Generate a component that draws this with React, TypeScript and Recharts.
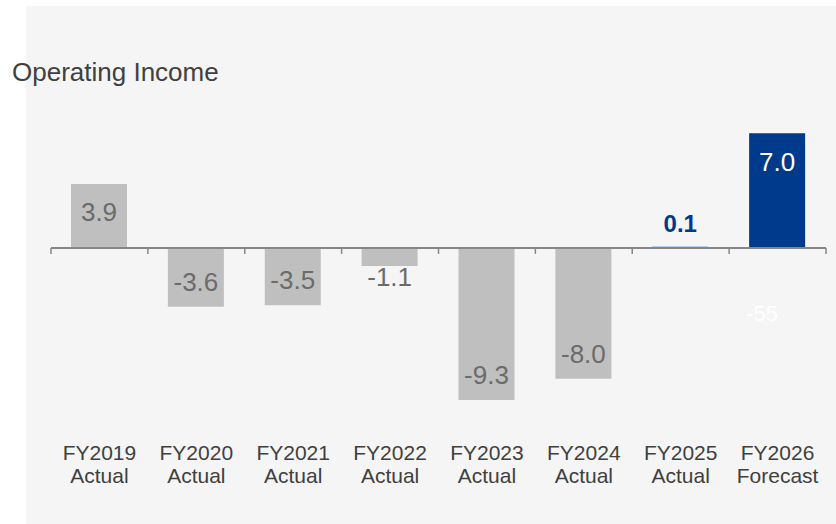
import React from 'react';
import { BarChart, Bar, XAxis, YAxis, Cell, ReferenceLine, LabelList } from 'recharts';

const categories = ['FY2019', 'FY2020', 'FY2021', 'FY2022', 'FY2023', 'FY2024', 'FY2025', 'FY2026'];
const periods = ['Actual', 'Actual', 'Actual', 'Actual', 'Actual', 'Actual', 'Actual', 'Forecast'];
const values = [3.9, -3.6, -3.5, -1.1, -9.3, -8.0, 0.1, 7.0];
const barColors = ['#bfbfbf', '#bfbfbf', '#bfbfbf', '#bfbfbf', '#bfbfbf', '#bfbfbf', '#9dc3e6', '#003a8c'];
const hiddenNote = '-55';
const title = 'Operating Income';

const data = categories.map((c, i) => ({ name: c, period: periods[i], value: values[i] }));

const FONT = '"Liberation Sans", Arial, sans-serif';

const CategoryTick = (props: any) => {
  const { x, y, payload, index } = props;
  return (
    <text x={x} y={y} textAnchor="middle" fontFamily={FONT} fontSize={21} fill="#404040">
      <tspan x={x} dy={48.5}>{payload.value}</tspan>
      <tspan x={x} dy={23}>{periods[index]}</tspan>
    </text>
  );
};

const ValueLabel = (props: any) => {
  const { x, y, width, height, value, index } = props;
  const top = Math.min(y, y + height);
  const bottom = Math.max(y, y + height);
  const cx = x + width / 2;
  const positive = value >= 0;
  const end = positive ? top : bottom;
  const base = positive ? bottom : top;
  const txt = Number(value).toFixed(1);
  if (index === 6) {
    return (
      <text x={cx} y={end - 23 + 8.5} textAnchor="middle" fontFamily={FONT} fontSize={24} fontWeight="bold" fill="#003a8c">
        {txt}
      </text>
    );
  }
  let center: number;
  if (positive) {
    center = Math.min(end + 28, base - 29);
  } else {
    center = Math.max(end - 25.5, base + 29);
  }
  const color = index === 7 ? '#ffffff' : '#6b6b6b';
  return (
    <g>
      <text x={cx} y={center + 9.3} textAnchor="middle" fontFamily={FONT} fontSize={26} fill={color}>
        {txt}
      </text>
      {index === 7 ? (
        <text x={cx - 15} y={base + 73} textAnchor="middle" fontFamily={FONT} fontSize={22} fill="#ffffff">
          {hiddenNote}
        </text>
      ) : null}
    </g>
  );
};

const ZeroAxis = (props: any) => {
  const { x1, y1, x2, y2 } = props;
  const n = categories.length;
  const step = (x2 - x1) / n;
  const ticks = [];
  for (let i = 0; i <= n; i++) {
    const tx = x1 + i * step;
    ticks.push(<line key={i} x1={tx} y1={y1} x2={tx} y2={y1 + 6} stroke="#868686" strokeWidth={1.5} />);
  }
  return (
    <g>
      <line x1={x1} y1={y1} x2={x2} y2={y2} stroke="#868686" strokeWidth={2} />
      {ticks}
    </g>
  );
};

export default function App() {
  return (
    <div style={{ position: 'absolute', left: 0, top: 0, width: 836, height: 524, background: '#ffffff', overflow: 'hidden' }}>
      <div style={{ position: 'absolute', left: 26, top: 6, width: 810, height: 518, background: '#f5f5f5' }} />
      <div
        style={{
          position: 'absolute',
          left: 12,
          top: 59,
          fontFamily: FONT,
          fontSize: 26,
          lineHeight: '26px',
          color: '#404040',
          whiteSpace: 'nowrap',
        }}
      >
        {title}
      </div>
      <div style={{ position: 'absolute', left: 0, top: 0 }}>
        <BarChart
          width={836}
          height={524}
          data={data}
          margin={{ top: 117, right: 10, bottom: 52.5, left: 51 }}
        >
          <YAxis hide domain={[-10, 8]} allowDataOverflow />
          <XAxis
            dataKey="name"
            height={60}
            axisLine={false}
            tickLine={false}
            tickSize={0}
            tickMargin={0}
            interval={0}
            tick={<CategoryTick />}
          />
          <Bar dataKey="value" barSize={56} isAnimationActive={false}>
            {data.map((d, i) => (
              <Cell key={d.name} fill={barColors[i]} />
            ))}
            <LabelList dataKey="value" content={<ValueLabel />} />
          </Bar>
          <ReferenceLine y={0} shape={<ZeroAxis />} />
        </BarChart>
      </div>
    </div>
  );
}
